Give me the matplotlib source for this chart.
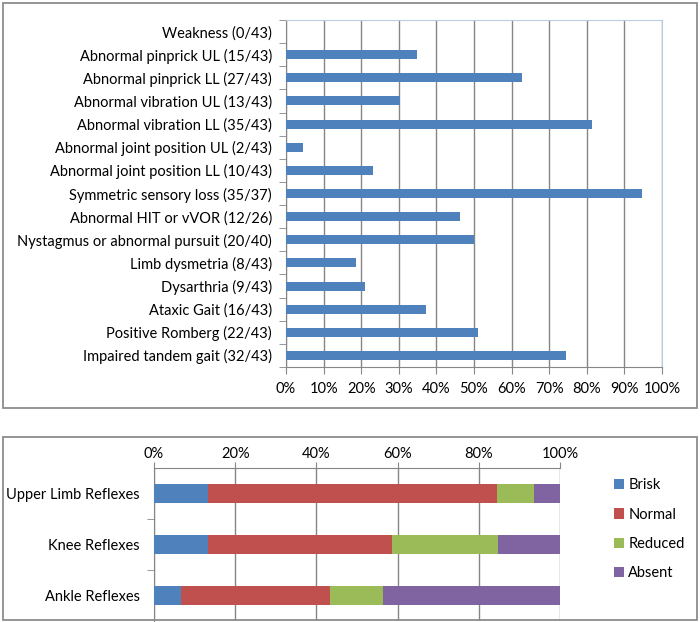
import numpy as np
import matplotlib.pyplot as plt
from matplotlib.patches import Rectangle

plt.rcParams['font.family'] = ['Lato', 'DejaVu Sans']

# top panel: findings (count / tested)
findings = ['Weakness', 'Abnormal pinprick UL', 'Abnormal pinprick LL',
            'Abnormal vibration UL', 'Abnormal vibration LL',
            'Abnormal joint position UL', 'Abnormal joint position LL',
            'Symmetric sensory loss', 'Abnormal HIT or vVOR',
            'Nystagmus or abnormal pursuit', 'Limb dysmetria', 'Dysarthria',
            'Ataxic Gait', 'Positive Romberg', 'Impaired tandem gait']
positive = [0, 15, 27, 13, 35, 2, 10, 35, 12, 20, 8, 9, 16, 22, 32]
tested = [43, 43, 43, 43, 43, 43, 43, 37, 26, 40, 43, 43, 43, 43, 43]

# bottom panel: reflex distribution (percent)
reflexes = ['Upper Limb Reflexes', 'Knee Reflexes', 'Ankle Reflexes']
grades = ['Brisk', 'Normal', 'Reduced', 'Absent']
brisk = [13.2, 13.2, 6.6]
normal = [71.4, 45.5, 36.7]
reduced = [9.0, 26.1, 13.1]
absent = [6.4, 15.2, 43.6]

W, H = 700, 622
fig = plt.figure(figsize=(W / 100, H / 100), dpi=100)

def box(x0, y0, x1, y1):
    # pixel coords from top-left
    return [x0 / W, 1 - y1 / H, (x1 - x0) / W, (y1 - y0) / H]

# panel borders
for (x0, y0, x1, y1) in [(3, 3, 697, 408), (3, 437, 697, 620)]:
    fig.patches.append(Rectangle((x0 / W, 1 - y1 / H), (x1 - x0) / W, (y1 - y0) / H,
                                 transform=fig.transFigure, fill=False,
                                 edgecolor='#8c8c8c', lw=1.3))

grey = '#868686'
fs = 10.5

# ---- top chart
ax = fig.add_axes(box(286, 20, 662, 367))
pct = [p / t * 100 for p, t in zip(positive, tested)]
labels = [f'{n} ({p}/{t})' for n, p, t in zip(findings, positive, tested)]
y = np.arange(len(findings))
ax.barh(y, pct, height=0.39, color='#4F81BD', zorder=3)
ax.set_xlim(0, 100)
ax.set_ylim(len(findings) - 0.5, -0.5)
ax.set_xticks(np.arange(0, 101, 10))
ax.set_xticklabels([f'{v}%' for v in range(0, 101, 10)], fontsize=fs)
ax.set_yticks(y)
ax.set_yticklabels(labels, fontsize=fs)
ax.set_yticks(np.arange(-0.5, len(findings), 1), minor=True)
ax.tick_params(axis='y', which='major', length=0, pad=10)
ax.tick_params(axis='y', which='minor', length=5, color=grey, direction='out')
ax.tick_params(axis='x', length=5, color=grey, pad=6)
ax.xaxis.grid(True, color=grey, lw=1, zorder=0)
for s in ['left', 'bottom']:
    ax.spines[s].set_color(grey)
for s in ['top', 'right']:
    ax.spines[s].set_color('#b9cde5')

# ---- bottom chart
ax2 = fig.add_axes(box(154, 468, 560, 621))
cols = ['#4F81BD', '#C0504D', '#9BBB59', '#8064A2']
yb = np.arange(len(reflexes))
left = np.zeros(len(reflexes))
for g, vals, c in zip(grades, [brisk, normal, reduced, absent], cols):
    ax2.barh(yb, vals, left=left, height=0.38, color=c, label=g, zorder=3)
    left += np.array(vals)
ax2.set_xlim(0, 100)
ax2.set_ylim(2.5, -0.5)
ax2.xaxis.tick_top()
ax2.set_xticks(np.arange(0, 101, 20))
ax2.set_xticklabels([f'{v}%' for v in range(0, 101, 20)], fontsize=fs)
ax2.set_yticks(yb)
ax2.set_yticklabels(reflexes, fontsize=fs)
ax2.set_yticks([0.5, 1.5], minor=True)
ax2.tick_params(axis='y', which='major', length=0, pad=10)
ax2.tick_params(axis='y', which='minor', length=5, color=grey)
ax2.tick_params(axis='x', length=4, color=grey, pad=1)
ax2.xaxis.grid(True, color=grey, lw=1, zorder=0)
for s in ['right', 'bottom']:
    ax2.spines[s].set_visible(False)
for s in ['left', 'top']:
    ax2.spines[s].set_color(grey)
ax2.legend(loc='center left', bbox_to_anchor=(1.1, 0.60), frameon=False,
           fontsize=fs, handlelength=0.7, handleheight=0.7, handletextpad=0.3,
           labelspacing=1.05)

fig.savefig('out.png', dpi=100)
